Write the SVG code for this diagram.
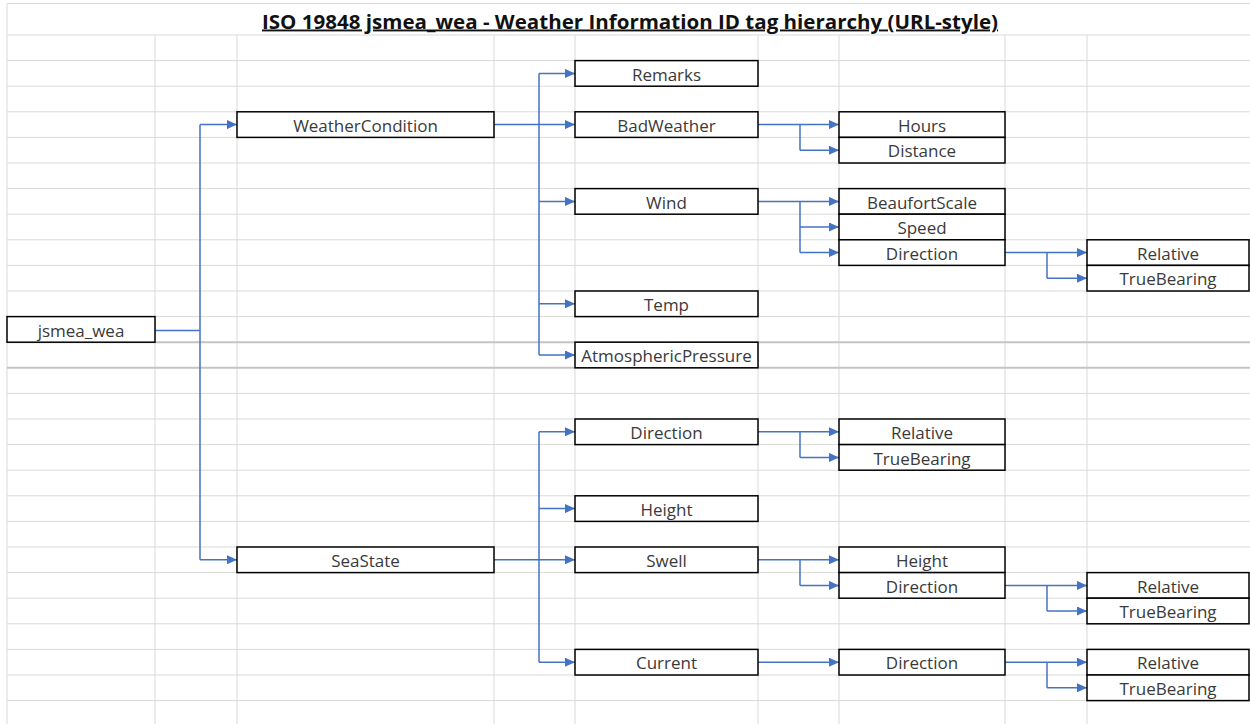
<svg xmlns="http://www.w3.org/2000/svg" width="1250" height="724" viewBox="0 0 1250 724">
<style>
.grid{stroke:#d9d9d9;stroke-width:1;fill:none}
.thick{stroke:#c4c4c4;stroke-width:2;fill:none}
.box{fill:#ffffff;stroke:#000000;stroke-width:1.5}
.lbl{font-family:"Open Sans","Liberation Sans",sans-serif;font-size:17px;fill:#3a3a3a;text-anchor:middle}
.title{font-family:"Open Sans","Liberation Sans",sans-serif;font-size:19px;font-weight:bold;fill:#111;text-anchor:middle;text-decoration:underline}
.conn{stroke:#4472c4;stroke-width:1.5;fill:none}
.arr{stroke:#4472c4;stroke-width:1.5;fill:none;marker-end:url(#ah)}
</style>
<defs>
<marker id="ah" markerUnits="userSpaceOnUse" markerWidth="11" markerHeight="9" refX="10" refY="4.5" orient="auto">
<path d="M0,0 L10,4.5 L0,9 z" fill="#4472c4"/>
</marker>
</defs>
<rect x="0" y="0" width="1250" height="724" fill="#ffffff"/>
<g id="grid">
<path class="grid" d="M7,3.5H1250 M7,35H1250 M7,60.6H1250 M7,86.2H1250 M7,111.8H1250 M7,137.4H1250 M7,163H1250 M7,188.6H1250 M7,214.2H1250 M7,239.8H1250 M7,265.4H1250 M7,291H1250 M7,316.6H1250 M7,393.4H1250 M7,419H1250 M7,444.6H1250 M7,470.2H1250 M7,495.8H1250 M7,521.4H1250 M7,547H1250 M7,572.6H1250 M7,598.2H1250 M7,623.8H1250 M7,649.4H1250 M7,675H1250 M7,700.6H1250"/>
<path class="grid" d="M7,3.5V724 M155,35V724 M237,35V724 M494,35V724 M575,35V724 M758,35V724 M839,35V724 M1005,35V724 M1087,35V724"/>
<path class="thick" d="M7,342.2H1250 M7,367.8H1250"/>
</g>
<text class="title" x="630" y="28.5" textLength="736" lengthAdjust="spacingAndGlyphs">ISO 19848 jsmea_wea - Weather Information ID tag hierarchy (URL-style)</text>
<g id="connectors">
<path class="conn" d="M155,330.4H200 M200,124.6V559.8"/>
<path class="arr" d="M200,124.6H237"/>
<path class="arr" d="M200,559.8H237"/>
<path class="conn" d="M539,73.4V355"/>
<path class="arr" d="M539,73.4H575"/>
<path class="arr" d="M494,124.6H575"/>
<path class="arr" d="M539,201.4H575"/>
<path class="arr" d="M539,303.8H575"/>
<path class="arr" d="M539,355H575"/>
<path class="conn" d="M539,431.8V662.2"/>
<path class="arr" d="M539,431.8H575"/>
<path class="arr" d="M539,508.6H575"/>
<path class="arr" d="M494,559.8H575"/>
<path class="arr" d="M539,662.2H575"/>
<path class="conn" d="M800,124.6V150.2"/>
<path class="arr" d="M758,124.6H839"/>
<path class="arr" d="M800,150.2H839"/>
<path class="conn" d="M800,201.4V252.6"/>
<path class="arr" d="M758,201.4H839"/>
<path class="arr" d="M800,227H839"/>
<path class="arr" d="M800,252.6H839"/>
<path class="conn" d="M1047,252.6V278.2"/>
<path class="arr" d="M1005,252.6H1087"/>
<path class="arr" d="M1047,278.2H1087"/>
<path class="conn" d="M800,431.8V457.4"/>
<path class="arr" d="M758,431.8H839"/>
<path class="arr" d="M800,457.4H839"/>
<path class="conn" d="M800,559.8V585.4"/>
<path class="arr" d="M758,559.8H839"/>
<path class="arr" d="M800,585.4H839"/>
<path class="conn" d="M1047,585.4V611"/>
<path class="arr" d="M1005,585.4H1087"/>
<path class="arr" d="M1047,611H1087"/>
<path class="arr" d="M758,662.2H839"/>
<path class="conn" d="M1047,662.2V687.8"/>
<path class="arr" d="M1005,662.2H1087"/>
<path class="arr" d="M1047,687.8H1087"/>
</g>
<g id="n-jsmea_wea"><rect class="box" x="7" y="316.6" width="148" height="25.6"/><text class="lbl" x="81" y="336.6">jsmea_wea</text></g>
<g id="n-weathercondition"><rect class="box" x="237" y="111.8" width="257" height="25.6"/><text class="lbl" x="365.5" y="131.8">WeatherCondition</text></g>
<g id="n-seastate"><rect class="box" x="237" y="547" width="257" height="25.6"/><text class="lbl" x="365.5" y="567">SeaState</text></g>
<g id="n-remarks"><rect class="box" x="575" y="60.6" width="183" height="25.6"/><text class="lbl" x="666.5" y="80.6">Remarks</text></g>
<g id="n-badweather"><rect class="box" x="575" y="111.8" width="183" height="25.6"/><text class="lbl" x="666.5" y="131.8">BadWeather</text></g>
<g id="n-wind"><rect class="box" x="575" y="188.6" width="183" height="25.6"/><text class="lbl" x="666.5" y="208.6">Wind</text></g>
<g id="n-temp"><rect class="box" x="575" y="291" width="183" height="25.6"/><text class="lbl" x="666.5" y="311">Temp</text></g>
<g id="n-atmosphericpressure"><rect class="box" x="575" y="342.2" width="183" height="25.6"/><text class="lbl" x="666.5" y="362.2">AtmosphericPressure</text></g>
<g id="n-hours"><rect class="box" x="839" y="111.8" width="166" height="25.6"/><text class="lbl" x="922" y="131.8">Hours</text></g>
<g id="n-distance"><rect class="box" x="839" y="137.4" width="166" height="25.6"/><text class="lbl" x="922" y="157.4">Distance</text></g>
<g id="n-beaufortscale"><rect class="box" x="839" y="188.6" width="166" height="25.6"/><text class="lbl" x="922" y="208.6">BeaufortScale</text></g>
<g id="n-speed"><rect class="box" x="839" y="214.2" width="166" height="25.6"/><text class="lbl" x="922" y="234.2">Speed</text></g>
<g id="n-wind-direction"><rect class="box" x="839" y="239.8" width="166" height="25.6"/><text class="lbl" x="922" y="259.8">Direction</text></g>
<g id="n-wind-relative"><rect class="box" x="1087" y="239.8" width="162" height="25.6"/><text class="lbl" x="1168" y="259.8">Relative</text></g>
<g id="n-wind-truebearing"><rect class="box" x="1087" y="265.4" width="162" height="25.6"/><text class="lbl" x="1168" y="285.4">TrueBearing</text></g>
<g id="n-sea-direction"><rect class="box" x="575" y="419" width="183" height="25.6"/><text class="lbl" x="666.5" y="439">Direction</text></g>
<g id="n-sea-relative"><rect class="box" x="839" y="419" width="166" height="25.6"/><text class="lbl" x="922" y="439">Relative</text></g>
<g id="n-sea-truebearing"><rect class="box" x="839" y="444.6" width="166" height="25.6"/><text class="lbl" x="922" y="464.6">TrueBearing</text></g>
<g id="n-sea-height"><rect class="box" x="575" y="495.8" width="183" height="25.6"/><text class="lbl" x="666.5" y="515.8">Height</text></g>
<g id="n-swell"><rect class="box" x="575" y="547" width="183" height="25.6"/><text class="lbl" x="666.5" y="567">Swell</text></g>
<g id="n-swell-height"><rect class="box" x="839" y="547" width="166" height="25.6"/><text class="lbl" x="922" y="567">Height</text></g>
<g id="n-swell-direction"><rect class="box" x="839" y="572.6" width="166" height="25.6"/><text class="lbl" x="922" y="592.6">Direction</text></g>
<g id="n-swell-relative"><rect class="box" x="1087" y="572.6" width="162" height="25.6"/><text class="lbl" x="1168" y="592.6">Relative</text></g>
<g id="n-swell-truebearing"><rect class="box" x="1087" y="598.2" width="162" height="25.6"/><text class="lbl" x="1168" y="618.2">TrueBearing</text></g>
<g id="n-current"><rect class="box" x="575" y="649.4" width="183" height="25.6"/><text class="lbl" x="666.5" y="669.4">Current</text></g>
<g id="n-current-direction"><rect class="box" x="839" y="649.4" width="166" height="25.6"/><text class="lbl" x="922" y="669.4">Direction</text></g>
<g id="n-current-relative"><rect class="box" x="1087" y="649.4" width="162" height="25.6"/><text class="lbl" x="1168" y="669.4">Relative</text></g>
<g id="n-current-truebearing"><rect class="box" x="1087" y="675" width="162" height="25.6"/><text class="lbl" x="1168" y="695">TrueBearing</text></g>
</svg>
